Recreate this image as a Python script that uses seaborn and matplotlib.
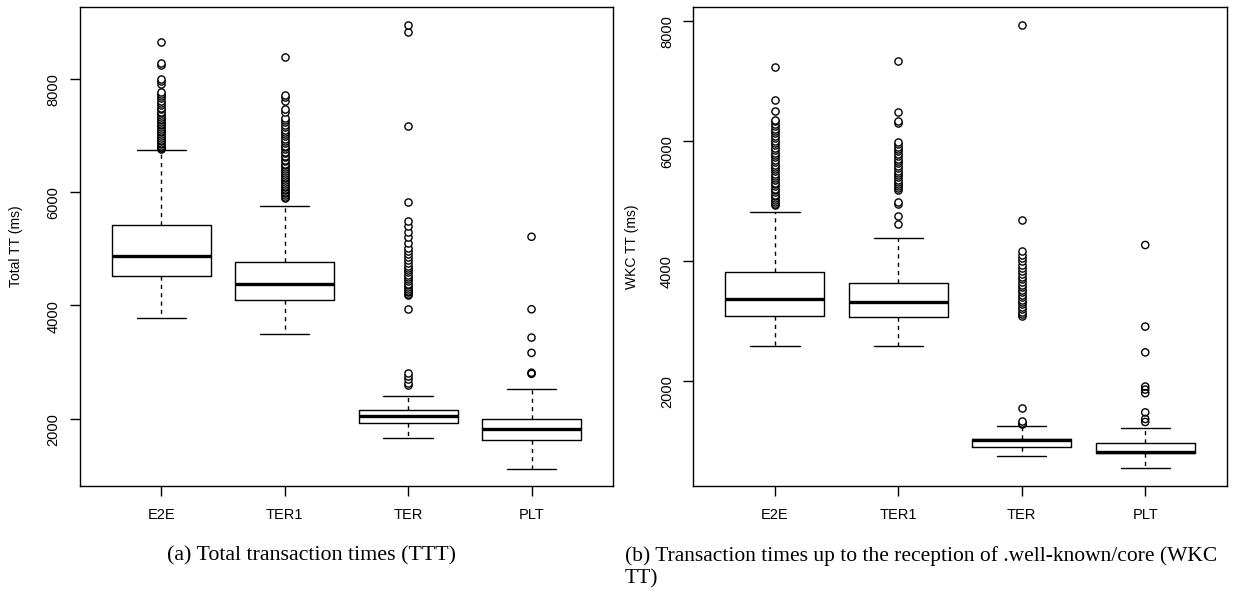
import seaborn as sns
import matplotlib.pyplot as plt
import pandas as pd

categories = ["E2E", "TER1", "TER", "PLT"]

# (a) total transaction times, box statistics (ms)
ttt_whislo = [3771, 3494, 1658, 1117]
ttt_q1 = [4512, 4094, 1928, 1618]
ttt_med = [4876, 4371, 2052, 1823]
ttt_q3 = [5412, 4760, 2153, 2000]
ttt_whishi = [6742, 5753, 2405, 2528]

ttt_out_e2e = [6755, 6770, 6795, 6810, 6840, 6870, 6895, 6920, 6950, 6990, 7020, 7055,
               7080, 7110, 7140, 7175, 7200, 7230, 7265, 7290, 7320, 7350, 7390, 7420,
               7460, 7490, 7530, 7570, 7610, 7650, 7690, 7730, 7770, 7900, 7960, 8000,
               8240, 8270, 8650]
ttt_out_ter1 = [5900, 5920, 5950, 5975, 6000, 6030, 6060, 6090, 6110, 6140, 6180, 6210,
                6240, 6270, 6300, 6340, 6370, 6400, 6440, 6470, 6500, 6540, 6570, 6610,
                6640, 6680, 6710, 6750, 6790, 6820, 6860, 6900, 6940, 6980, 7020, 7060,
                7100, 7140, 7190, 7230, 7270, 7300, 7420, 7460, 7600, 7680, 7720, 8380]
ttt_out_ter = [2600, 2620, 2700, 2760, 2800, 3930, 4180, 4200, 4230, 4260, 4290, 4320,
               4350, 4380, 4420, 4460, 4500, 4540, 4580, 4620, 4660, 4700, 4750, 4800,
               4850, 4900, 4960, 5020, 5100, 5200, 5300, 5400, 5480, 5830, 7170, 8820,
               8950]
ttt_out_plt = [2790, 2810, 3160, 3430, 3930, 5210]

# (b) transaction times up to reception of .well-known/core (ms)
wkc_whislo = [2577, 2583, 750, 540]
wkc_q1 = [3083, 3056, 900, 795]
wkc_med = [3356, 3306, 1007, 817]
wkc_q3 = [3806, 3633, 1033, 967]
wkc_whishi = [4817, 4383, 1250, 1217]

wkc_out_e2e = [4930, 4950, 4980, 5010, 5040, 5070, 5100, 5140, 5170, 5200, 5240, 5270,
               5300, 5340, 5380, 5410, 5450, 5490, 5520, 5560, 5600, 5640, 5680, 5720,
               5760, 5800, 5840, 5880, 5920, 5960, 6000, 6040, 6080, 6120, 6160, 6200,
               6240, 6280, 6320, 6350, 6490, 6670, 7220]
wkc_out_ter1 = [4610, 4745, 4950, 4970, 5180, 5210, 5240, 5280, 5310, 5350, 5390, 5420,
                5460, 5500, 5540, 5580, 5620, 5660, 5700, 5740, 5780, 5820, 5860, 5900,
                5940, 5980, 6290, 6330, 6480, 7330]
wkc_out_ter = [1280, 1290, 1300, 1320, 1540, 3070, 3110, 3150, 3190, 3230, 3270, 3310,
               3350, 3390, 3430, 3470, 3510, 3560, 3600, 3640, 3690, 3730, 3780, 3830,
               3880, 3930, 3990, 4040, 4100, 4160, 4670, 7920]
wkc_out_plt = [1310, 1360, 1470, 1790, 1850, 1900, 2470, 2900, 4260]


def draw_panel(ax, whislo, q1, med, q3, whishi, outliers, ylabel, ylim):
    stats = [dict(whislo=whislo[i], q1=q1[i], med=med[i], q3=q3[i], whishi=whishi[i],
                  fliers=[]) for i in range(len(categories))]
    ax.bxp(stats, positions=range(len(categories)), widths=0.8, showfliers=False,
           manage_ticks=False,
           boxprops=dict(color="black", linewidth=1.0),
           medianprops=dict(color="black", linewidth=2.4, solid_capstyle="butt"),
           whiskerprops=dict(color="black", linewidth=1.0, linestyle=(0, (3, 3))),
           capprops=dict(color="black", linewidth=1.0))

    df = pd.DataFrame({
        "cat": [c for c, vals in zip(categories, outliers) for _ in vals],
        "value": [v for vals in outliers for v in vals],
    })
    sns.stripplot(data=df, x="cat", y="value", order=categories, jitter=False,
                  color="white", edgecolor="black", linewidth=1.0, size=5.2,
                  ax=ax, zorder=3)
    ax.collections[-1].set_facecolor("none")

    ax.set_xlim(-0.66, 3.66)
    ax.set_ylim(*ylim)
    ax.set_xticks(range(len(categories)))
    ax.set_xticklabels(categories)
    ax.set_yticks([2000, 4000, 6000, 8000])
    ax.set_xlabel("")
    ax.set_ylabel(ylabel, fontsize=10, color="black")
    ax.tick_params(axis="both", length=7, width=1, color="black", labelsize=10.5,
                   labelcolor="black")
    ax.tick_params(axis="x", pad=9)
    ax.tick_params(axis="y", labelrotation=90, pad=7)
    for s in ax.spines.values():
        s.set_visible(True)
        s.set_color("black")
        s.set_linewidth(1.0)


sns.set_style("ticks")
plt.rcParams["font.family"] = ["Liberation Sans", "DejaVu Sans"]
plt.rcParams["text.color"] = "black"

fig = plt.figure(figsize=(12.39, 5.91), dpi=100)
ax1 = fig.add_axes([0.0646, 0.1777, 0.4301, 0.81])
ax2 = fig.add_axes([0.5596, 0.1777, 0.4305, 0.81])

draw_panel(ax1, ttt_whislo, ttt_q1, ttt_med, ttt_q3, ttt_whishi,
           [ttt_out_e2e, ttt_out_ter1, ttt_out_ter, ttt_out_plt],
           "Total TT (ms)", (811, 9260))
draw_panel(ax2, wkc_whislo, wkc_q1, wkc_med, wkc_q3, wkc_whishi,
           [wkc_out_e2e, wkc_out_ter1, wkc_out_ter, wkc_out_plt],
           "WKC TT (ms)", (243, 8223))
ax1.yaxis.set_label_coords(-0.107, 0.5)
ax2.yaxis.set_label_coords(-0.102, 0.5)

cap_font = dict(family=["Liberation Serif", "DejaVu Serif"], va="center", color="black")
fig.text(167 / 1239, 0.059, "(a) Total transaction times (TTT)", ha="left",
         fontsize=15.8, **cap_font)
fig.text(625 / 1239, 0.059,
         "(b) Transaction times up to the reception of .well-known/core (WKC",
         ha="left", fontsize=15.5, **cap_font)
fig.text(625 / 1239, 0.0203, "TT)", ha="left", fontsize=15.5, **cap_font)

plt.savefig("out.png", dpi=100)
